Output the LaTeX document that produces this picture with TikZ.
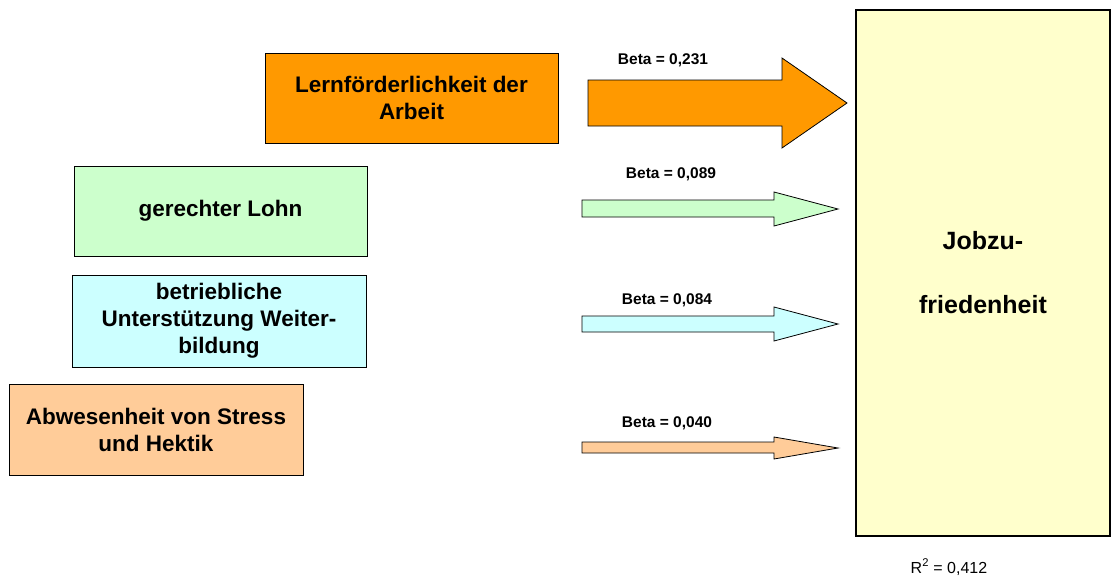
\documentclass[tikz,border=0pt]{standalone}
\usepackage{fontspec}
\setmainfont{Liberation Sans}
\definecolor{cOrange}{HTML}{FF9900}
\definecolor{cGreen}{HTML}{CCFFCC}
\definecolor{cCyan}{HTML}{CCFFFF}
\definecolor{cPeach}{HTML}{FFCC99}
\definecolor{cYellow}{HTML}{FFFFCC}
\begin{document}
\begin{tikzpicture}[x=1pt,y=-1pt,
  box/.style={draw=black, line width=0.8pt, align=center, inner sep=0pt,
    font=\fontsize{22.5}{27}\selectfont\bfseries},
  blockarrow/.style={draw=black, line width=0.8pt},
  betalabel/.style={anchor=base, inner sep=0pt, font=\fontsize{15.5}{18}\selectfont\bfseries}]
\useasboundingbox (0,0) rectangle (1111,576);
% source boxes
\node[box, fill=cOrange, minimum width=293pt, minimum height=90pt] (lern) at (411.5,98) {Lernförderlichkeit der\\Arbeit};
\node[box, fill=cGreen, minimum width=293pt, minimum height=90pt] (lohn) at (220.5,211) {gerechter Lohn};
\node[box, fill=cCyan, minimum width=294pt, minimum height=92pt] (weiter) at (219,321) {betriebliche\\Unterstützung Weiter-\\bildung};
\node[box, fill=cPeach, minimum width=294pt, minimum height=91pt] (stress) at (156,429.5) {Abwesenheit von Stress\\und Hektik};
% target box
\node[box, fill=cYellow, line width=1.2pt, minimum width=254pt, minimum height=526pt,
  font=\fontsize{25}{28}\selectfont\bfseries] (job) at (983,273) {Jobzu-\\[36pt]friedenheit};
% block arrows
\draw[blockarrow, fill=cOrange] (588,80) -- (782,80) -- (782,58) -- (847,103) -- (782,148) -- (782,126) -- (588,126) -- cycle;
\draw[blockarrow, fill=cGreen] (582,200) -- (774,200) -- (774,192) -- (838,209) -- (774,226) -- (774,217) -- (582,217) -- cycle;
\draw[blockarrow, fill=cCyan] (582,316) -- (774,316) -- (774,307) -- (838,324) -- (774,341) -- (774,332) -- (582,332) -- cycle;
\draw[blockarrow, fill=cPeach] (582,442) -- (774,442) -- (774,437) -- (838,448) -- (774,459) -- (774,453) -- (582,453) -- cycle;
% labels
\node[betalabel] (b1) at (663,64.3) {Beta = 0,231};
\node[betalabel] (b2) at (671,178.3) {Beta = 0,089};
\node[betalabel] (b3) at (667,304) {Beta = 0,084};
\node[betalabel] (b4) at (667,427.3) {Beta = 0,040};
\node[anchor=base, inner sep=0pt, font=\fontsize{16}{19}\selectfont] (r2) at (949,573) {R\textsuperscript{2} = 0,412};
\end{tikzpicture}
\end{document}
